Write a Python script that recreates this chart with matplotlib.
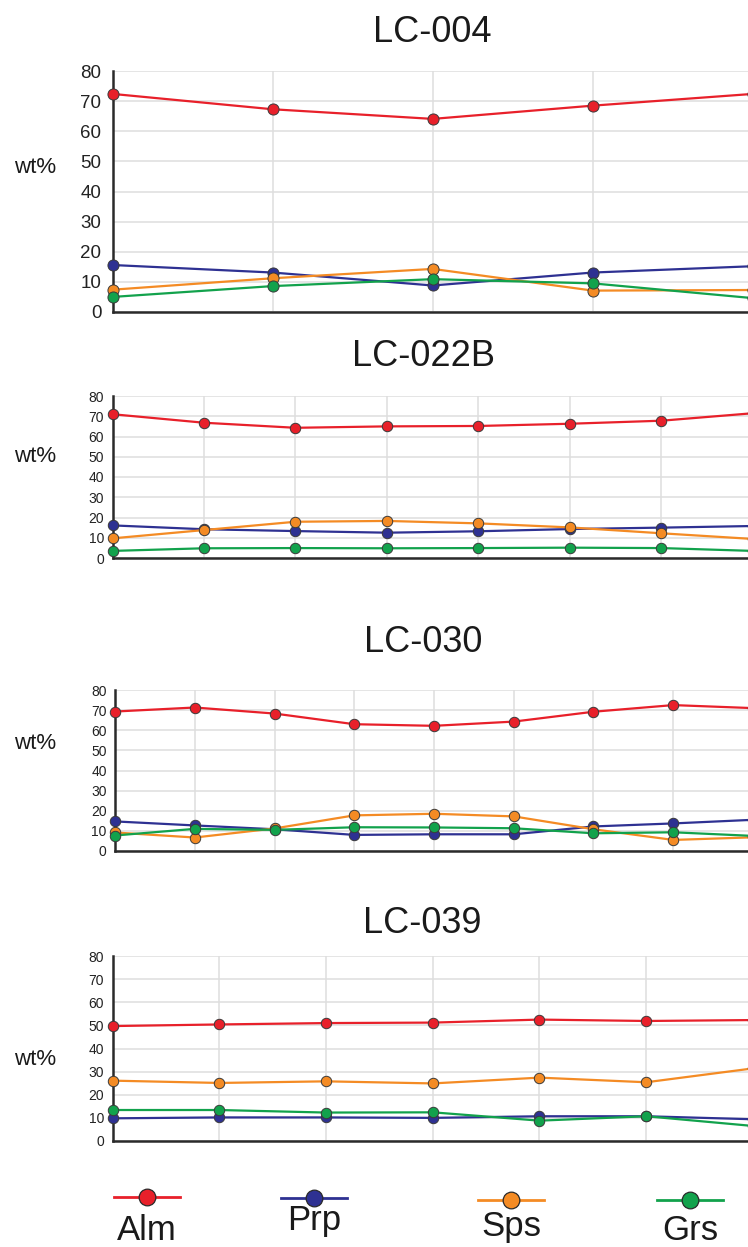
import matplotlib
matplotlib.use("Agg")
import matplotlib.pyplot as plt
from matplotlib.lines import Line2D

plt.rcParams['font.family'] = ['Liberation Sans', 'DejaVu Sans']

# ---------------- data ----------------
series_names = ["Alm", "Prp", "Sps", "Grs"]

lc004_alm = [72.4, 67.3, 64.1, 68.5, 72.4]
lc004_prp = [15.6, 13.1, 8.8, 13.1, 15.2]
lc004_sps = [7.4, 11.2, 14.3, 7.1, 7.3]
lc004_grs = [5.0, 8.6, 10.9, 9.5, 4.6]

lc022b_alm = [71.0, 66.8, 64.3, 65.0, 65.2, 66.3, 67.8, 71.5]
lc022b_prp = [16.1, 14.2, 13.3, 12.5, 13.2, 14.3, 15.0, 15.8]
lc022b_sps = [9.7, 13.8, 17.9, 18.3, 17.1, 15.1, 12.2, 9.4]
lc022b_grs = [3.5, 4.8, 4.9, 4.8, 4.9, 5.1, 4.9, 3.5]

lc030_alm = [69.3, 71.3, 68.3, 63.0, 62.2, 64.3, 69.2, 72.5, 71.0]
lc030_prp = [14.7, 12.7, 10.8, 8.0, 8.3, 8.3, 12.2, 13.7, 15.5]
lc030_sps = [9.2, 6.7, 11.2, 17.7, 18.5, 17.2, 10.8, 5.5, 6.8]
lc030_grs = [7.7, 11.0, 10.5, 11.8, 11.7, 11.3, 8.8, 9.3, 7.5]

lc039_alm = [49.7, 50.4, 51.0, 51.2, 52.5, 51.9, 52.3]
lc039_prp = [9.8, 10.2, 10.2, 10.0, 10.7, 10.7, 9.4]
lc039_sps = [26.1, 25.1, 25.8, 24.9, 27.4, 25.4, 31.4]
lc039_grs = [13.4, 13.4, 12.3, 12.4, 8.8, 10.7, 6.5]

panel_titles = ["LC-004", "LC-022B", "LC-030", "LC-039"]
y_ticks = [0, 10, 20, 30, 40, 50, 60, 70, 80]
y_label = "wt%"

panels = [
    (panel_titles[0], [lc004_alm, lc004_prp, lc004_sps, lc004_grs]),
    (panel_titles[1], [lc022b_alm, lc022b_prp, lc022b_sps, lc022b_grs]),
    (panel_titles[2], [lc030_alm, lc030_prp, lc030_sps, lc030_grs]),
    (panel_titles[3], [lc039_alm, lc039_prp, lc039_sps, lc039_grs]),
]

# ---------------- style / layout ----------------
colors = ["#E8202A", "#2E3192", "#F48B24", "#12A24C"]
W, H = 748, 1247
fig = plt.figure(figsize=(W / 100, H / 100), dpi=100)

def fx(px):
    return px / W

def fy(py):
    return 1 - py / H

# (left, right, top, bottom) in pixels, tick font size, marker size
layout = [
    (112.5, 753, 71, 312, 13.5, 8),
    (112.5, 753, 396, 558, 10, 7.5),
    (115, 753, 690, 851, 10, 7.5),
    (112.5, 753, 956, 1141, 10, 7.5),
]
title_pos = [(432, 41.5), (423, 366.5), (423, 651.5), (422, 933)]
ylabel_pos = [(35, 173), (35, 461.5), (35, 749), (35, 1065)]

for (title, data), (l, r, t, b, tfs, ms), (tx, ty), (lx, ly) in zip(
        panels, layout, title_pos, ylabel_pos):
    ax = fig.add_axes([fx(l), fy(b), fx(r) - fx(l), fy(t) - fy(b)])
    n = len(data[0])
    xs = list(range(n))
    for vals, c in zip(data, colors):
        ax.plot(xs, vals, color=c, lw=1.6, marker='o', ms=ms,
                markerfacecolor=c, markeredgecolor='#3a3a3a',
                markeredgewidth=0.7, clip_on=False, zorder=3)
    ax.set_xlim(0, n - 1)
    ax.set_ylim(0, 80)
    ax.set_yticks(y_ticks)
    ax.set_xticks(xs)
    ax.set_xticklabels([])
    ax.tick_params(axis='both', length=0)
    ax.tick_params(axis='y', labelsize=tfs, pad=8 if tfs > 11 else 6,
                   labelcolor='#222222')
    ax.grid(True, color='#dedede', lw=1.1)
    ax.set_axisbelow(True)
    for s in ['top', 'right']:
        ax.spines[s].set_visible(False)
    for s in ['left', 'bottom']:
        ax.spines[s].set_color('#2a2a2a')
        ax.spines[s].set_linewidth(1.8)
    fig.text(fx(tx), fy(ty), title, ha='center', va='baseline',
             fontsize=26, color='#1a1a1a')
    fig.text(fx(lx), fy(ly), y_label, ha='center', va='baseline',
             fontsize=16, color='#1a1a1a')

# ---------------- legend ----------------
leg_x = [147, 314, 511, 690]
leg_y = [1197, 1198, 1200, 1200]
leg_text_y = [1240, 1230, 1236, 1240]
for name, c, x, y, ty in zip(series_names, colors, leg_x, leg_y, leg_text_y):
    fig.add_artist(Line2D([fx(x - 33), fx(x + 33)], [fy(y), fy(y)],
                          transform=fig.transFigure, color=c, lw=2))
    fig.add_artist(Line2D([fx(x)], [fy(y)], transform=fig.transFigure,
                          marker='o', ms=12, color=c, markerfacecolor=c,
                          markeredgecolor='#2a2a2a', markeredgewidth=0.9))
    fig.text(fx(x), fy(ty), name, ha='center', va='baseline',
             fontsize=25, color='#1a1a1a')

fig.savefig("out.png", dpi=100)
